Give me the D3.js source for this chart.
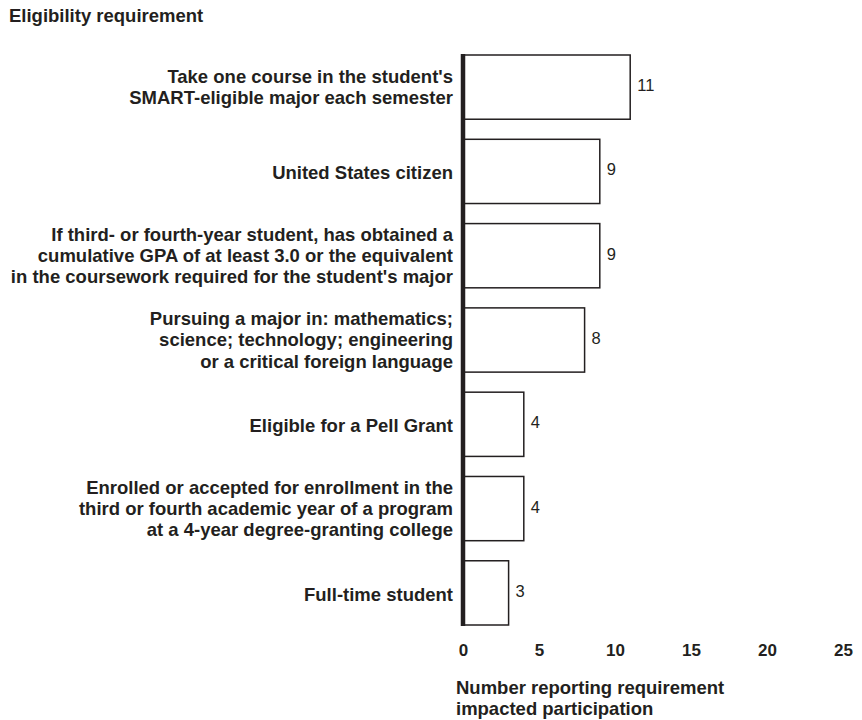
<!DOCTYPE html>
<html><head><meta charset="utf-8">
<script src="https://cdn.jsdelivr.net/npm/d3@7"></script>
<style>body{margin:0;background:#fff}svg{display:block}text{font-family:"Liberation Sans",Arial,Helvetica,sans-serif}</style>
</head><body>
<script>
const categories = [
  ["Take one course in the student's", "SMART-eligible major each semester"],
  ["United States citizen"],
  ["If third- or fourth-year student, has obtained a", "cumulative GPA of at least 3.0 or the equivalent", "in the coursework required for the student's major"],
  ["Pursuing a major in: mathematics;", "science; technology; engineering", "or a critical foreign language"],
  ["Eligible for a Pell Grant"],
  ["Enrolled or accepted for enrollment in the", "third or fourth academic year of a program", "at a 4-year degree-granting college"],
  ["Full-time student"]
];
const values = [11, 9, 9, 8, 4, 4, 3];
const xTicks = [0, 5, 10, 15, 20, 25];
const yTitle = "Eligibility requirement";
const xTitle = ["Number reporting requirement", "impacted participation"];

const W = 862, H = 720;
const ink = "#231f20";
const svg = d3.select("body").append("svg").attr("width", W).attr("height", H);

const x = d3.scaleLinear().domain([0, 25]).range([463, 843]);
const y = d3.scaleBand().domain(d3.range(values.length)).range([55, 625]).paddingInner(0.238).paddingOuter(0);

// bars
svg.append("g").selectAll("rect").data(values).join("rect")
  .attr("x", x(0))
  .attr("y", (d, i) => y(i))
  .attr("width", d => x(d) - x(0))
  .attr("height", y.bandwidth())
  .attr("fill", "#fff")
  .attr("stroke", ink)
  .attr("stroke-width", 1.5);

// value labels
svg.append("g").selectAll("text").data(values).join("text")
  .attr("x", d => x(d) + 7)
  .attr("y", (d, i) => y(i) + y.bandwidth() / 2 + 4)
  .attr("font-size", 16.5)
  .attr("fill", ink)
  .text(d => d);

// vertical axis line
svg.append("line")
  .attr("x1", x(0)).attr("x2", x(0))
  .attr("y1", y(0) - 1).attr("y2", y(values.length - 1) + y.bandwidth() + 1)
  .attr("stroke", ink).attr("stroke-width", 4.5);

// category labels (slightly wide type, as in the reference)
const sx = 1.057, lh = 21.2;
const catG = svg.append("g").attr("transform", `translate(453,0) scale(${sx},1) translate(-453,0)`);
const cat = catG.selectAll("text").data(categories).join("text")
  .attr("text-anchor", "end")
  .attr("font-size", 17.5)
  .attr("font-weight", "bold")
  .attr("fill", ink)
  .attr("y", (d, i) => y(i) + y.bandwidth() / 2 + (d.length === 1 ? 8 : 6.5) - (d.length - 1) * lh / 2);
cat.selectAll("tspan").data(d => d).join("tspan")
  .attr("x", 453)
  .attr("dy", (d, j) => j === 0 ? 0 : lh)
  .text(d => d);

// x axis tick labels
const xAxis = d3.axisBottom(x).tickValues(xTicks).tickSize(0).tickPadding(0);
const gx = svg.append("g").attr("transform", "translate(0,644)").call(xAxis);
gx.select(".domain").remove();
gx.selectAll("text")
  .attr("font-size", 17)
  .attr("font-weight", "bold")
  .attr("fill", ink)
  .attr("font-family", "Liberation Sans, Arial, sans-serif");

// x title
svg.append("g").attr("transform", `translate(456,0) scale(${sx},1) translate(-456,0)`)
  .append("text")
  .attr("x", 456).attr("y", 694)
  .attr("font-size", 17.5).attr("font-weight", "bold").attr("fill", ink)
  .selectAll("tspan").data(xTitle).join("tspan")
  .attr("x", 456).attr("dy", (d, j) => j === 0 ? 0 : 21)
  .text(d => d);

// y title
svg.append("g").attr("transform", `translate(9,0) scale(${sx},1) translate(-9,0)`)
  .append("text")
  .attr("x", 9).attr("y", 22)
  .attr("font-size", 17.5).attr("font-weight", "bold").attr("fill", ink)
  .text(yTitle);
</script>
</body></html>
